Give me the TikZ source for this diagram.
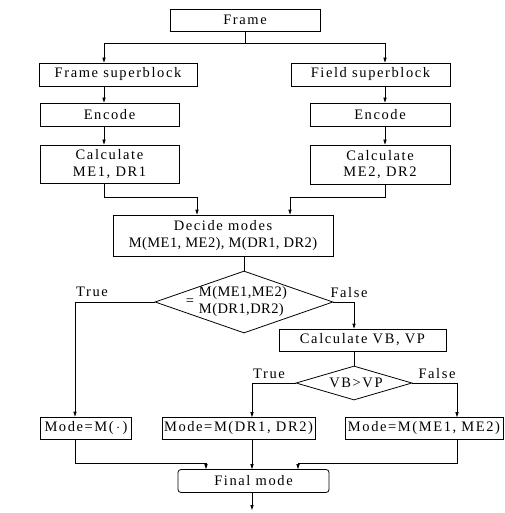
\documentclass[tikz,border=0pt]{standalone}
\usepackage{fontspec}
\setmainfont{Liberation Serif}[LetterSpace=11]
\usetikzlibrary{arrows.meta,shapes.geometric}
\newcommand{\tight}{\addfontfeature{LetterSpace=3}}

\begin{document}
\begin{tikzpicture}[x=1pt,y=-1pt,
  every node/.style={font=\fontsize{14.5pt}{16.5pt}\selectfont},
  box/.style={draw,line width=0.8pt,inner sep=0pt,align=center},
  choice/.style={draw,line width=0.8pt,shape=diamond,inner sep=0pt},
  lbl/.style={inner sep=0pt},
  link/.style={line width=0.8pt},
  arr/.style={link,-{Triangle[length=5pt,width=3.2pt]}}]
\useasboundingbox (0,0) rectangle (504,513);

% process boxes
\node[box,minimum width=150pt,minimum height=22pt] (frame) at (245,20) {Frame};
\node[box,minimum width=158pt,minimum height=23pt] (fsb) at (118,74.5) {Frame superblock};
\node[box,minimum width=159pt,minimum height=23pt] (dsb) at (370.5,74.5) {Field superblock};
\node[box,minimum width=139pt,minimum height=23pt] (encL) at (109.5,114.5) {Encode};
\node[box,minimum width=140pt,minimum height=23pt] (encR) at (380,114.5) {Encode};
\node[box,minimum width=139pt,minimum height=38pt] (calcL) at (109.5,164) {Calculate\\ME1, DR1};
\node[box,minimum width=140pt,minimum height=39pt] (calcR) at (380,164.5) {Calculate\\ME2, DR2};
\node[box,minimum width=220pt,minimum height=41pt] (decide) at (223,235.5) {Decide modes\\{\tight M(ME1, ME2), M(DR1, DR2)}};

% first decision
\node[choice,minimum width=178pt,minimum height=62pt] (d1) at (244,302) {};
\node[lbl] (d1eq) at (190,302) {=};
\node[lbl,align=left,font=\fontsize{14.5pt}{17pt}\selectfont\tight] (d1txt) at (243,302) {M(ME1,ME2)\\M(DR1,DR2)};

\node[box,minimum width=167pt,minimum height=22pt] (calcV) at (362.5,340) {Calculate VB, VP};

% second decision
\node[choice,minimum width=116pt,minimum height=34pt] (d2) at (354,383) {};
\node[lbl] (d2txt) at (356,383) {VB>VP};

% resulting modes
\node[box,minimum width=91pt,minimum height=22pt] (m0) at (86,428) {Mode=M(\,$\cdot$\,)};
\node[box,minimum width=153pt,minimum height=22pt] (mDR) at (238.5,428.5) {Mode=M(DR1, DR2)};
\node[box,minimum width=158pt,minimum height=22pt] (mME) at (424,428.5) {Mode=M(ME1, ME2)};
\node[box,minimum width=151pt,minimum height=23pt,rounded corners=3pt] (final) at (253.5,481) {Final mode};

% branch labels
\node[lbl] (t1) at (92,292) {True};
\node[lbl] (f1) at (349,293) {False};
\node[lbl] (t2) at (269,374) {True};
\node[lbl] (f2) at (437,374) {False};

% column and row guides
\coordinate (colL) at (104,0);
\coordinate (colR) at (385,0);
\coordinate (decL) at (197,0);
\coordinate (decR) at (290,0);
\coordinate (colA) at (75,0);
\coordinate (colV) at (354,0);
\coordinate (colT) at (252,0);
\coordinate (colF) at (457,0);
\coordinate (finL) at (206,0);
\coordinate (finR) at (298,0);
\coordinate (split) at (245,43);
\coordinate (mergeY) at (0,197);
\coordinate (joinY) at (0,463);
\coordinate (out) at (252,510);

% connectors
\draw[link] (frame.south) -- (split);
\draw[arr] (split) -| (fsb.north -| colL);
\draw[arr] (split) -| (dsb.north -| colR);
\draw[arr] (fsb.south -| colL) -- (encL.north -| colL);
\draw[arr] (dsb.south -| colR) -- (encR.north -| colR);
\draw[arr] (encL.south -| colL) -- (calcL.north -| colL);
\draw[arr] (encR.south -| colR) -- (calcR.north -| colR);
\draw[arr] (calcL.south -| colL) |- (mergeY -| decL) -- (decide.north -| decL);
\draw[arr] (calcR.south -| colR) |- (mergeY -| decR) -- (decide.north -| decR);
\draw[link] (decide.south -| d1.north) -- (d1.north);
\draw[arr] (d1.west) -| (m0.north -| colA);
\draw[arr] (d1.east) -| (calcV.north -| colV);
\draw[link] (calcV.south -| d2.north) -- (d2.north);
\draw[arr] (d2.west) -| (mDR.north -| colT);
\draw[arr] (d2.east) -| (mME.north -| colF);
\draw[arr] (m0.south -| colA) |- (joinY -| finL) -- (final.north -| finL);
\draw[arr] (mDR.south -| colT) -- (final.north -| colT);
\draw[arr] (mME.south -| colF) |- (joinY -| finR) -- (final.north -| finR);
\draw[arr] (final.south -| colT) -- (out);
\end{tikzpicture}
\end{document}
